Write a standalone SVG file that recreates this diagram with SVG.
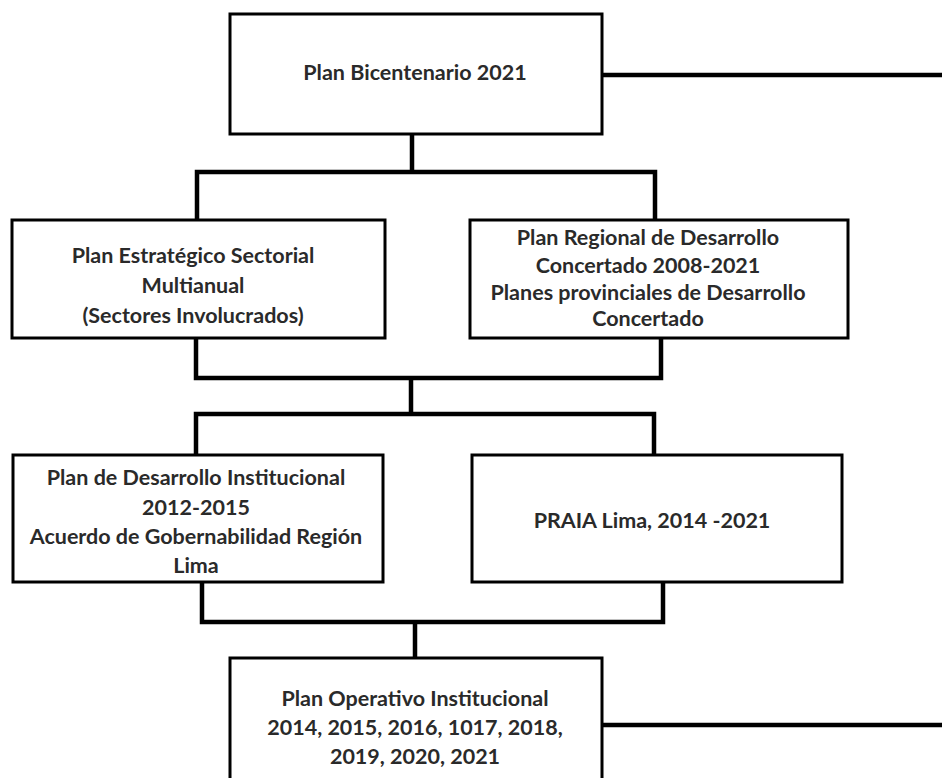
<svg xmlns="http://www.w3.org/2000/svg" width="942" height="778" viewBox="0 0 942 778">
<style>
.box{fill:#fff;stroke:#000;stroke-width:3}
.con{fill:none;stroke:#000;stroke-width:4.5;stroke-linecap:square;stroke-linejoin:miter}
text{font-family:Lato,"Liberation Sans",sans-serif;font-weight:bold;font-size:21.5px;fill:#2a2a2a;text-anchor:middle;dominant-baseline:central}
</style>
<rect width="942" height="778" fill="#fff"/>
<g id="connectors">
<path class="con" d="M602 75H942"/>
<path class="con" d="M412 134V172M197 220V172H655V220"/>
<path class="con" d="M196 338V378H661V338M411 378V414M196 455V414H654V455"/>
<path class="con" d="M202 582V622H663V582M415 622V658"/>
<path class="con" d="M602 725H942"/>
</g>
<g id="n1"><rect class="box" x="230" y="14" width="372" height="120"/><text x="415" y="72">Plan Bicentenario 2021</text></g>
<g id="n2"><rect class="box" x="12" y="220" width="373" height="118"/>
<text x="193" y="255">Plan Estratégico Sectorial</text><text x="193" y="285">Multianual</text><text x="193" y="315">(Sectores Involucrados)</text></g>
<g id="n3"><rect class="box" x="470" y="220" width="378" height="118"/>
<text x="648" y="237">Plan Regional de Desarrollo</text><text x="648" y="265">Concertado 2008-2021</text><text x="648" y="292">Planes provinciales de Desarrollo</text><text x="648" y="318">Concertado</text></g>
<g id="n4"><rect class="box" x="13" y="455" width="370" height="127"/>
<text x="196" y="477">Plan de Desarrollo Institucional</text><text x="196" y="507">2012-2015</text><text x="196" y="536">Acuerdo de Gobernabilidad Región</text><text x="196" y="565">Lima</text></g>
<g id="n5"><rect class="box" x="472" y="455" width="370" height="127"/><text x="652" y="520">PRAIA Lima, 2014 -2021</text></g>
<g id="n6"><rect class="box" x="230" y="658" width="372" height="130"/>
<text x="415" y="698">Plan Operativo Institucional</text><text x="415" y="727">2014, 2015, 2016, 1017, 2018,</text><text x="415" y="756">2019, 2020, 2021</text></g>
</svg>
